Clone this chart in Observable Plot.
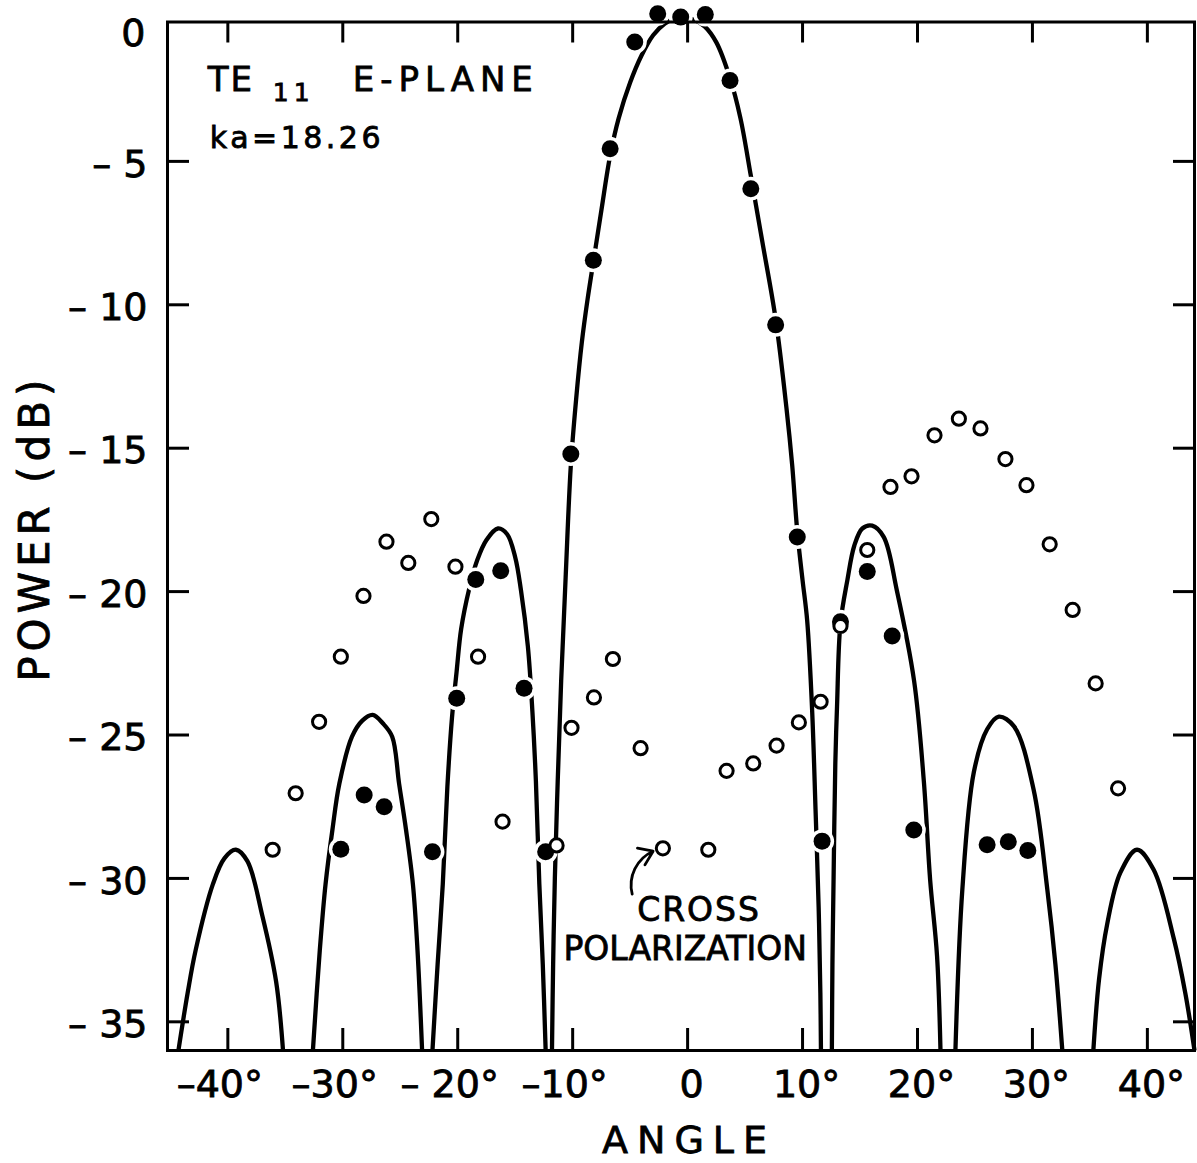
<!DOCTYPE html>
<html>
<head>
<meta charset="utf-8">
<script src="https://cdn.jsdelivr.net/npm/d3@7"></script>
<script src="https://cdn.jsdelivr.net/npm/@observablehq/plot@0.6"></script>
<style>
  html, body { margin: 0; padding: 0; background: #fff; }
  #chart { width: 1197px; height: 1163px; }
  #chart svg text { stroke: black; stroke-width: 0.8px; }
</style>
</head>
<body>
<div id="chart"></div>
<script>
// ---- tick values and labels ----
const xTicks = [-40, -30, -20, -10, 0, 10, 20, 30, 40];
const xTickLabels = ["–40°", "–30°", "– 20°", "–10°", "0", "10°", "20°", "30°", "40°"];
const yTicks = [0, -5, -10, -15, -20, -25, -30, -35];
const yTickLabels = ["0", "– 5", "– 10", "– 15", "– 20", "– 25", "– 30", "– 35"];
const xTitle = "ANGLE";
const yTitle = "POWER (dB)";

// ---- theoretical pattern (solid curve), [angle deg, power dB] ----
const lobeLeft3 = [[-44.3,-36],[-43.5,-34],[-42.8,-32.5],[-41.3,-30.2],[-40.3,-29.3],[-39.3,-29.0],[-38.3,-29.4],[-37.0,-31.3],[-35.8,-33.6],[-35.2,-36]];
const lobeLeft2 = [[-32.6,-36],[-32.0,-32.5],[-31.5,-30.2],[-30.9,-28.3],[-30.3,-26.7],[-29.2,-25.06],[-28.3,-24.5],[-27.4,-24.3],[-26.5,-24.6],[-25.7,-25.06],[-25.1,-26.7],[-24.5,-28.3],[-23.9,-30.2],[-23.5,-32.5],[-23.1,-36]];
const lobeLeft1 = [[-22.2,-36],[-21.75,-33],[-21.3,-30.2],[-20.9,-26.8],[-20.5,-24.4],[-20.1,-22.8],[-19.7,-21.3],[-19.0,-19.9],[-18.3,-18.9],[-17.5,-18.2],[-16.5,-17.8],[-15.7,-18.0],[-15.0,-18.8],[-14.5,-19.95],[-13.9,-21.9],[-13.5,-24.2],[-13.2,-26.6],[-12.9,-30.2],[-12.6,-33],[-12.35,-36]];
const lobeMain = [[-11.8,-36],[-11.7,-33],[-11.55,-30],[-11.3,-26.6],[-11.0,-23.1],[-10.6,-19.4],[-10.16,-15.6],[-9.7,-13.3],[-9.2,-11.3],[-8.7,-9.8],[-8.16,-8.4],[-7.5,-6.7],[-6.74,-4.8],[-6.0,-3.5],[-5.0,-2.25],[-4.0,-1.3],[-3.0,-0.6],[-2.0,-0.2],[-1.2,-0.03],[-0.5,0],[0.5,-0.05],[1.5,-0.3],[2.5,-0.85],[3.69,-2.1],[4.6,-3.5],[5.5,-5.5],[6.5,-7.8],[7.66,-10.5],[8.6,-13.6],[9.1,-15.6],[9.54,-17.9],[10.0,-19.6],[10.4,-21.0],[10.84,-24.2],[11.13,-27.6],[11.4,-31],[11.55,-34],[11.6,-36]];
const lobeRight1 = [[12.55,-36],[12.6,-33],[12.7,-30],[12.85,-26],[13.0,-24],[13.3,-21.1],[13.9,-19.6],[14.5,-18.4],[15.2,-17.8],[16.06,-17.7],[17.07,-18.1],[18.2,-19.95],[19.7,-23.1],[20.55,-26.6],[21.1,-30.05],[21.7,-32.7],[22.0,-36]];
const lobeRight2 = [[23.3,-36],[23.9,-30.4],[24.9,-26.3],[26.06,-24.8],[27.07,-24.36],[28.4,-24.7],[30.1,-26.9],[31.3,-30.4],[32.0,-33],[32.6,-36]];
const lobeRight3 = [[35.3,-36],[35.8,-33.5],[36.5,-31.6],[37.65,-29.8],[39.1,-29.0],[40.55,-29.7],[42.3,-32.1],[43.3,-34],[44.1,-36]];

// ---- measured co-polar (filled dots) ----
const copolar = [[-30.17,-28.98],[-28.14,-27.09],[-26.4,-27.5],[-22.2,-29.07],[-20.09,-23.72],[-18.43,-19.58],[-16.26,-19.27],[-14.23,-23.37],[-12.35,-29.07],[-10.16,-15.2],[-8.2,-8.45],[-6.74,-4.56],[-4.6,-0.84],[-2.6,0.15],[-0.6,0.03],[1.54,0.12],[3.69,-2.18],[5.5,-5.95],[7.66,-10.7],[9.54,-18.1],[11.7,-28.7],[13.3,-21.05],[15.63,-19.3],[17.8,-21.55],[19.68,-28.31],[26.06,-28.83],[27.9,-28.72],[29.6,-29.03]];

// ---- measured cross-polar (open circles) ----
const crosspolar = [[-36.1,-29.0],[-34.1,-27.03],[-32.06,-24.54],[-30.17,-22.27],[-28.2,-20.15],[-26.2,-18.26],[-24.3,-19.0],[-22.3,-17.47],[-20.2,-19.13],[-18.23,-22.27],[-16.1,-28.02],[-11.4,-28.85],[-10.1,-24.75],[-8.15,-23.69],[-6.5,-22.35],[-4.09,-25.46],[-2.15,-28.95],[1.8,-29.0],[3.39,-26.25],[5.71,-25.99],[7.74,-25.37],[9.68,-24.56],[11.57,-23.84],[13.3,-21.2],[15.63,-18.55],[17.65,-16.35],[19.48,-15.98],[21.48,-14.55],[23.6,-13.97],[25.48,-14.31],[27.65,-15.38],[29.48,-16.29],[31.5,-18.35],[33.5,-20.64],[35.5,-23.2],[37.45,-26.86]];

// ---- annotations (text, anchor angle, anchor dB at baseline) ----
const noteTE = [{text: "TE", x: -41.74, y: -2.53}];
const noteSub = [{text: "11", x: -36.09, y: -2.88}];
const notePlane = [{text: "E-PLANE", x: -29.14, y: -2.53}];
const noteKa = [{text: "ka=18.26", x: -41.57, y: -4.55}];
const noteCross = [{text: "CROSS", x: -4.39, y: -31.47}, {text: "POLARIZATION", x: -10.8, y: -32.86}];
const noteArrow = [{x1: -4.82, y1: -30.55, x2: -3.0, y2: -29.05}];

const lobes = {lobeLeft3, lobeLeft2, lobeLeft1, lobeMain, lobeRight1, lobeRight2, lobeRight3};
const curve = Object.entries(lobes).flatMap(([lobe, pts]) => pts.map(([x, y]) => ({lobe, x, y})));
const fmtX = d => xTickLabels[xTicks.indexOf(d)];
const fmtY = d => yTickLabels[yTicks.indexOf(d)];
const yInner = yTicks.filter(d => d !== 0);
const font = "DejaVu Sans, Liberation Sans, sans-serif";

const chart = Plot.plot({
  width: 1197,
  height: 1163,
  marginLeft: 167,
  marginRight: 3,
  marginTop: 21.5,
  marginBottom: 113,
  x: {domain: [-45.25, 44.1], axis: null, label: null},
  y: {domain: [-36, -0.14], axis: null, label: null},
  style: {fontFamily: font, color: "black", background: "white", overflow: "visible"},
  marks: [
    Plot.line(curve, {x: "x", y: "y", z: "lobe", curve: "catmull-rom", stroke: "black", strokeWidth: 4.3, strokeLinecap: "butt"}),
    Plot.dot(copolar, {x: d => d[0], y: d => d[1], r: 12, fill: "white"}),
    Plot.frame({stroke: "black", strokeWidth: 3}),
    Plot.axisX(xTicks, {anchor: "bottom", tickSize: -22, fill: "none", strokeWidth: 3, label: null}),
    Plot.axisX(xTicks, {anchor: "top", tickSize: -20, fill: "none", strokeWidth: 3, label: null}),
    Plot.axisY(yInner, {anchor: "left", tickSize: -22, fill: "none", strokeWidth: 3, label: null}),
    Plot.axisY(yInner, {anchor: "right", tickSize: -22, fill: "none", strokeWidth: 3, label: null}),
    Plot.axisX(xTicks.filter(d => d < 0), {anchor: "bottom", stroke: "none", tickSize: 0, tickPadding: 20, dx: -8, tickFormat: fmtX, fontSize: 38, label: null}),
    Plot.axisX(xTicks.filter(d => d >= 0), {anchor: "bottom", stroke: "none", tickSize: 0, tickPadding: 20, dx: 4, tickFormat: fmtX, fontSize: 38, label: null}),
    Plot.axisY(yInner, {anchor: "left", stroke: "none", tickSize: 0, tickPadding: 20, dy: 3, tickFormat: fmtY, fontSize: 38, label: null}),
    Plot.text([yTickLabels[0]], {text: d => d, frameAnchor: "top-left", textAnchor: "end", lineAnchor: "top", dx: -22, dy: -3, fontSize: 38}),
    Plot.text([yTitle], {text: d => d, frameAnchor: "left", textAnchor: "middle", lineAnchor: "middle", rotate: -90, dx: -132, dy: -8, fontSize: 42}),
    Plot.text([xTitle], {text: d => d, frameAnchor: "bottom", textAnchor: "middle", lineAnchor: "middle", dx: 8, dy: 90, fontSize: 38}),
    Plot.dot(copolar, {x: d => d[0], y: d => d[1], r: 8.5, fill: "black"}),
    Plot.dot(crosspolar, {x: d => d[0], y: d => d[1], r: 6.6, fill: "white", stroke: "black", strokeWidth: 3}),
    Plot.arrow(noteArrow, {x1: "x1", y1: "y1", x2: "x2", y2: "y2", bend: 40, headLength: 12, headAngle: 70, strokeWidth: 2.8, stroke: "black"}),
    Plot.text(noteTE, {x: "x", y: "y", text: "text", textAnchor: "start", lineAnchor: "bottom", fontSize: 34}),
    Plot.text(noteSub, {x: "x", y: "y", text: "text", textAnchor: "start", lineAnchor: "bottom", fontSize: 25}),
    Plot.text(notePlane, {x: "x", y: "y", text: "text", textAnchor: "start", lineAnchor: "bottom", fontSize: 34}),
    Plot.text(noteKa, {x: "x", y: "y", text: "text", textAnchor: "start", lineAnchor: "bottom", fontSize: 30}),
    Plot.text(noteCross, {x: "x", y: "y", text: "text", textAnchor: "start", lineAnchor: "bottom", fontSize: 33})
  ]
});
document.getElementById("chart").appendChild(chart);

// letter spacing of the hand-lettered labels
const spacing = {"ANGLE": 9, "POWER (dB)": 5, "E-PLANE": 6, "ka=18.26": 3.5, "TE": 2, "11": 5, "CROSS": 2};
d3.select(chart).selectAll("text").each(function () {
  const s = spacing[this.textContent];
  if (s != null) this.style.letterSpacing = s + "px";
});
</script>
</body>
</html>
